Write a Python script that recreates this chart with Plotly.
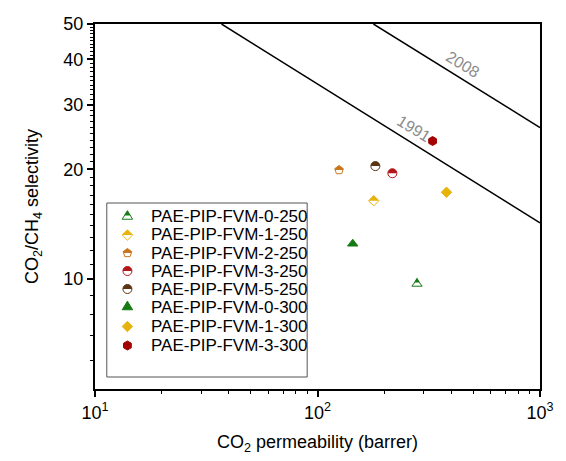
import math
import plotly.graph_objects as go

# ---- data: CO2 permeability (barrer) and CO2/CH4 selectivity ----
names = ["PAE-PIP-FVM-0-250", "PAE-PIP-FVM-1-250", "PAE-PIP-FVM-2-250",
         "PAE-PIP-FVM-3-250", "PAE-PIP-FVM-5-250", "PAE-PIP-FVM-0-300",
         "PAE-PIP-FVM-1-300", "PAE-PIP-FVM-3-300"]
permeability = [280, 179, 125, 217, 182, 144, 380, 329]
selectivity = [9.7, 16.4, 19.9, 19.5, 20.4, 12.5, 17.3, 23.9]
colors = ["#157a15", "#e8b20c", "#c9771d", "#b3161a", "#5b3411",
          "#157a15", "#e8b20c", "#a30000"]
symbols = ["triangle-up", "diamond", "pentagon", "circle", "circle",
           "triangle-up", "diamond", "hexagon"]
half_filled = [True, True, True, True, True, False, False, False]
sizes = [9, 8, 9, 9, 9, 9, 8, 9]

# Robeson upper bounds: P = k * alpha^n
bound_years = ["1991", "2008"]
bound_k = [1073700, 5369140]
bound_n = [-2.6264, -2.636]

X_RANGE = (10, 1000)
Y_RANGE = (5, 50)

FONT = "Liberation Sans, Arial, sans-serif"


def poly(pts):
    return "M" + " L".join(f"{x:.2f},{y:.2f}" for x, y in pts) + " Z"


def symbol_path(sym, size, half=False):
    """Marker outline in pixels around its centre (y up); half=True gives
    only the upper half."""
    r = size / 2.0
    if sym == "circle":
        k = 0.5523 * r
        top = (f"M{-r},0 C{-r},{k} {-k},{r} 0,{r} "
               f"C{k},{r} {r},{k} {r},0")
        if half:
            return top + " Z"
        return top + f" C{r},{-k} {k},{-r} 0,{-r} C{-k},{-r} {-r},{-k} {-r},0 Z"
    if sym == "diamond":
        rd = 1.3 * r
        if half:
            return poly([(-rd, 0), (0, rd), (rd, 0)])
        return poly([(-rd, 0), (0, rd), (rd, 0), (0, -rd)])
    if sym == "triangle-up":
        rt = r * 2 / math.sqrt(3)
        r2 = r / 2
        rs = r * math.sqrt(2)
        if half:
            ym = (rs - r2) / 2 - 0.6
            xc = rt * (rs - ym) / (rs + r2)
            return poly([(0, rs), (xc, ym), (-xc, ym)])
        return poly([(0, rs), (rt, -r2), (-rt, -r2)])
    if sym == "pentagon":
        x1, y1 = 0.951 * r, 0.309 * r
        if half:
            return poly([(0, r), (x1, y1), (0.851 * r, 0), (-0.851 * r, 0), (-x1, y1)])
        return poly([(0, r), (x1, y1), (0.588 * r, -0.809 * r),
                     (-0.588 * r, -0.809 * r), (-x1, y1)])
    if sym == "hexagon":
        x = r * math.sqrt(3) / 2
        return poly([(0, r), (x, r / 2), (x, -r / 2), (0, -r),
                     (-x, -r / 2), (-x, r / 2)])
    raise ValueError(sym)


traces = []
shapes = []

# upper bound lines
for year, k, n in zip(bound_years, bound_k, bound_n):
    p_top = k * Y_RANGE[1] ** n
    a_right = (X_RANGE[1] / k) ** (1 / n)
    traces.append(go.Scatter(x=[p_top, X_RANGE[1]], y=[Y_RANGE[1], a_right],
                             mode="lines", line=dict(color="black", width=1.5),
                             showlegend=False, hoverinfo="skip"))

# membrane data points
for i, nm in enumerate(names):
    fill = "white" if half_filled[i] else colors[i]
    marker = dict(symbol=symbols[i], size=sizes[i], color=fill,
                  line=dict(color=colors[i], width=1))
    traces.append(go.Scatter(x=[permeability[i]], y=[selectivity[i]],
                             mode="markers", marker=marker, name=nm,
                             showlegend=False))
    if half_filled[i]:
        shapes.append(dict(type="path", xref="x", yref="y",
                           xsizemode="pixel", ysizemode="pixel",
                           xanchor=permeability[i], yanchor=selectivity[i],
                           path=symbol_path(symbols[i], sizes[i], half=True),
                           fillcolor=colors[i], line=dict(width=0),
                           layer="above"))

fig = go.Figure(traces)

annotations = []
# bound labels, set just above each line
label_p = [252, 420]
for year, k, n, p in zip(bound_years, bound_k, bound_n, label_p):
    a = (p / k) ** (1 / n)
    d = 13
    ang = 31.3
    annotations.append(dict(x=math.log10(p), y=math.log10(a), xref="x", yref="y",
                            text=year, showarrow=False, textangle=ang,
                            xshift=d * math.sin(math.radians(ang)),
                            yshift=d * math.cos(math.radians(ang)),
                            font=dict(family=FONT, size=16, color="#8c8c8c")))

# legend panel
W, H = 566, 461
ML, MR, MT, MB = 95, 18, 24, 72
PW, PH = W - ML - MR, H - MT - MB


def px2paper(px, py):
    return (px - ML) / PW, (H - MB - py) / PH


bx0, by0 = px2paper(107, 203)
bx1, by1 = px2paper(311, 377)
shapes.append(dict(type="rect", xref="paper", yref="paper", x0=bx0, x1=bx1,
                   y0=by1, y1=by0, line=dict(color="#555555", width=1),
                   fillcolor="white", layer="above"))
row_y = [217, 235, 253, 271, 289, 307.5, 326.5, 345.5]
for i, nm in enumerate(names):
    mx, my = px2paper(128, row_y[i])
    tx, _ = px2paper(150, row_y[i])
    fill = "white" if half_filled[i] else colors[i]
    shapes.append(dict(type="path", xref="paper", yref="paper",
                       xsizemode="pixel", ysizemode="pixel",
                       xanchor=mx, yanchor=my,
                       path=symbol_path(symbols[i], sizes[i]),
                       fillcolor=fill, line=dict(color=colors[i], width=1),
                       layer="above"))
    if half_filled[i]:
        shapes.append(dict(type="path", xref="paper", yref="paper",
                           xsizemode="pixel", ysizemode="pixel",
                           xanchor=mx, yanchor=my,
                           path=symbol_path(symbols[i], sizes[i], half=True),
                           fillcolor=colors[i], line=dict(width=0),
                           layer="above"))
    annotations.append(dict(x=tx, y=my, xref="paper", yref="paper", text=nm,
                            showarrow=False, xanchor="left", yanchor="middle",
                            font=dict(family=FONT, size=17, color="black")))

fig.update_layout(
    width=W, height=H, margin=dict(l=ML, r=MR, t=MT, b=MB),
    paper_bgcolor="white", plot_bgcolor="white",
    shapes=shapes, annotations=annotations,
    font=dict(family=FONT, size=17, color="black"),
)

fig.update_xaxes(type="log", range=[1, 3], showgrid=False, zeroline=False,
                 showline=True, linecolor="black", linewidth=2, mirror=True,
                 ticks="outside", ticklen=6, tickwidth=1.5, tickcolor="black",
                 tickvals=[10, 100, 1000],
                 ticktext=["10<sup>1</sup>", "10<sup>2</sup>", "10<sup>3</sup>"],
                 tickfont=dict(size=18),
                 minor=dict(tickvals=[m * d for d in (10, 100) for m in range(2, 10)],
                            ticks="outside", ticklen=3, tickwidth=1, tickcolor="black"),
                 title=dict(text="CO<sub>2</sub> permeability (barrer)",
                            font=dict(size=18), standoff=14))

fig.update_yaxes(type="log", range=[math.log10(5), math.log10(50)], showgrid=False,
                 zeroline=False, showline=True, linecolor="black", linewidth=2,
                 mirror=True, ticks="outside", ticklen=6, tickwidth=1.5,
                 tickcolor="black", tickvals=[10, 20, 30, 40, 50],
                 tickfont=dict(size=18),
                 minor=dict(tickvals=[v for v in range(6, 50) if v % 10 != 0],
                            ticks="outside", ticklen=3, tickwidth=1, tickcolor="black"),
                 title=dict(text="CO<sub>2</sub>/CH<sub>4</sub> selectivity",
                            font=dict(size=18), standoff=20))

fig.write_html("out.html")
